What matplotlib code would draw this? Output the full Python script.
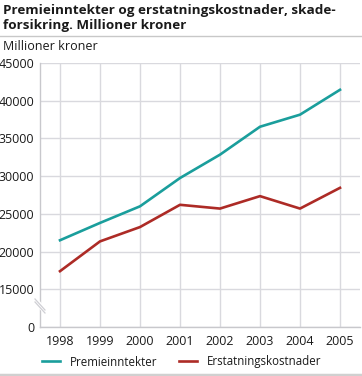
import numpy as np
import matplotlib
matplotlib.use("Agg")
import matplotlib.pyplot as plt
from matplotlib.lines import Line2D

years = [1998, 1999, 2000, 2001, 2002, 2003, 2004, 2005]
premie = [21500, 23800, 26000, 29750, 32850, 36550, 38150, 41450]
erstatning = [17400, 21350, 23250, 26200, 25700, 27350, 25700, 28450]
series_names = ["Premieinntekter", "Erstatningskostnader"]
yticks = [0, 15000, 20000, 25000, 30000, 35000, 40000, 45000]

teal = "#1a9e9c"
red = "#ad2b26"
grid_c = "#d9d9de"
text_c = "#1a1a1a"

plt.rcParams['font.family'] = ['Open Sans', 'DejaVu Sans']

fig = plt.figure(figsize=(3.62, 3.76), dpi=100)
ax = fig.add_axes([40/362, (376-327)/376, 320/362, (327-63)/376])

def fwd(v):
    v = np.asarray(v, dtype=float)
    return np.where(v >= 15000, v, 10000 + v / 3.0)

def inv(y):
    y = np.asarray(y, dtype=float)
    return np.where(y >= 15000, y, (y - 10000) * 3.0)

ax.set_yscale('function', functions=(fwd, inv))
ax.set_ylim(0, 45000)
ax.set_xlim(1997.5, 2005.5)
ax.set_yticks(yticks)
ax.set_yticklabels([str(t) for t in yticks])
ax.set_xticks(years)
ax.set_xticklabels([str(y) for y in years])
ax.yaxis.set_minor_locator(matplotlib.ticker.NullLocator())
ax.grid(True, color=grid_c, linewidth=1.0)
ax.set_axisbelow(True)
ax.tick_params(length=0, labelsize=9, colors=text_c, pad=4)
ax.tick_params(axis='x', pad=6)
for s in ['top', 'right']:
    ax.spines[s].set_visible(False)
for s in ['left', 'bottom']:
    ax.spines[s].set_color("#c8c8cc")
    ax.spines[s].set_linewidth(1.0)

ax.plot(years, premie, color=teal, linewidth=1.9, label=series_names[0], zorder=3)
ax.plot(years, erstatning, color=red, linewidth=1.9, label=series_names[1], zorder=3)

# axis break marks
fig.add_artist(Line2D([35/362, 45/362], [1-300/376, 1-311/376], color="white", lw=4.0))
fig.add_artist(Line2D([35/362, 45/362], [1-299/376, 1-310/376], color="#cfcfd4", lw=0.9))
fig.add_artist(Line2D([35/362, 45/362], [1-302/376, 1-313/376], color="#cfcfd4", lw=0.9))

# title
fig.text(3/362, 1-4/376, "Premieinntekter og erstatningskostnader, skade-\nforsikring. Millioner kroner",
         ha='left', va='top', fontsize=9.7, fontweight='bold', color=text_c, linespacing=1.15)
fig.add_artist(Line2D([0, 1], [1-36/376, 1-36/376], color="#c8c8c8", lw=1.0))
fig.text(3/362, 1-47/376, "Millioner kroner", ha='left', va='center', fontsize=9, color=text_c)

# legend
leg = fig.legend(handles=ax.get_lines(), loc='center', bbox_to_anchor=(182/362, 1-362/376),
                 ncol=2, frameon=False, fontsize=8.3, handlelength=1.5, columnspacing=1.9,
                 handletextpad=0.9)
for t in leg.get_texts():
    t.set_color(text_c)
fig.add_artist(Line2D([0, 1], [1-375/376, 1-375/376], color="#d0d0d0", lw=2.5))

fig.savefig("out.png", dpi=100)
